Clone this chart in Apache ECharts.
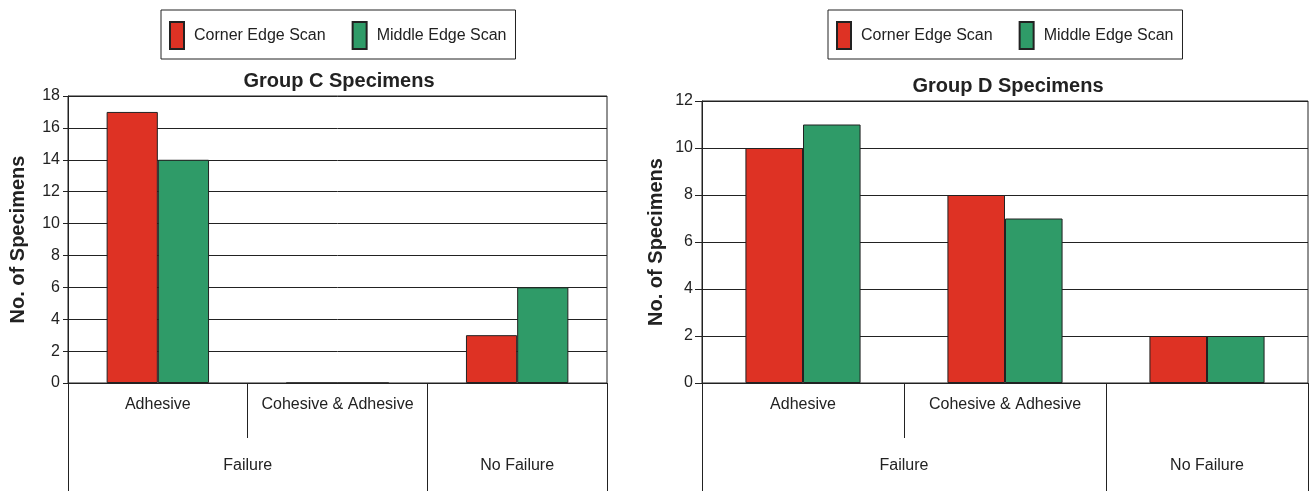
<!DOCTYPE html>
<html>
<head>
<meta charset="utf-8">
<title>Specimen failure modes</title>
<script src="https://cdn.jsdelivr.net/npm/echarts@6/dist/echarts.min.js"></script>
<style>
  html, body { margin: 0; padding: 0; background: #fff; }
  #chart { width: 1309px; height: 491px; }
</style>
</head>
<body>
<div id="chart"></div>
<script>
// Failure-mode categories (lower axis row) and their groups (second row)
const categories = ['Adhesive', 'Cohesive & Adhesive', ''];
const groupNames = ['Failure', 'No Failure'];
const groupSpans = [[0, 2], [2, 3]];   // category index ranges covered by each group

const seriesNames = ['Corner Edge Scan', 'Middle Edge Scan'];

// Group C specimens
const groupCCorner = [17, 0, 3];
const groupCMiddle = [14, 0, 6];
const groupCTicks = { min: 0, max: 18, interval: 2 };

// Group D specimens
const groupDCorner = [10, 8, 2];
const groupDMiddle = [11, 7, 2];
const groupDTicks = { min: 0, max: 12, interval: 2 };

const FONT = '"Liberation Sans", Arial, Helvetica, sans-serif';
const INK = '#222';
const RED = '#de3224';
const GREEN = '#2f9b68';

const groupCenters = groupSpans.map(s => (s[0] + s[1]) / 2);
const groupBounds = Array.from(new Set(groupSpans.flat()));

function groupLabel(v) {
  const i = groupCenters.findIndex(c => Math.abs(c - v) < 1e-6);
  return i >= 0 ? groupNames[i] : '';
}

function categoryAxis(gridIndex) {
  return {
    type: 'category', gridIndex, data: categories,
    axisLine: { lineStyle: { color: INK, width: 1 } },
    axisTick: { show: true, interval: 0, length: 55, lineStyle: { color: INK } },
    axisLabel: { interval: 0, margin: 14, fontSize: 16, color: INK, fontFamily: FONT },
    splitLine: { show: false }
  };
}

function groupAxis(gridIndex) {
  return {
    type: 'value', gridIndex, position: 'bottom',
    min: 0, max: categories.length,
    axisLine: { show: false },
    splitLine: { show: false },
    axisTick: { show: true, customValues: groupBounds, length: 108, lineStyle: { color: INK } },
    axisLabel: {
      customValues: groupCenters, margin: 75, fontSize: 16, color: INK, fontFamily: FONT,
      formatter: groupLabel
    }
  };
}

function valueAxis(gridIndex, ticks, nameGap, tickLen, labelMargin, nameSize) {
  return {
    type: 'value', gridIndex,
    min: ticks.min, max: ticks.max, interval: ticks.interval,
    name: 'No. of Specimens', nameLocation: 'middle', nameGap,
    nameTextStyle: { fontSize: nameSize, fontWeight: 'bold', color: INK, fontFamily: FONT },
    axisLine: { show: true, lineStyle: { color: INK } },
    axisTick: { show: true, length: tickLen, lineStyle: { color: INK } },
    axisLabel: { margin: labelMargin, fontSize: 16, color: INK, fontFamily: FONT },
    splitLine: { show: true, lineStyle: { color: INK, width: 1 } }
  };
}

function barSeries(name, data, axisIndex, color) {
  return {
    type: 'bar', name, data,
    xAxisIndex: axisIndex, yAxisIndex: axisIndex / 2,
    barGap: '0%', barCategoryGap: '43%',
    itemStyle: { color, borderColor: INK, borderWidth: 1 },
    emphasis: { disabled: true }
  };
}

function legendAt(left) {
  return {
    left, top: 10,
    data: seriesNames,
    icon: 'rect', itemWidth: 14, itemHeight: 27, itemGap: 26,
    padding: [11, 9, 9, 8],
    borderColor: INK, borderWidth: 1,
    textStyle: { fontSize: 16, color: INK, fontFamily: FONT, padding: [0, 0, 0, 5] }
  };
}

const chart = echarts.init(document.getElementById('chart'), null, { renderer: 'canvas' });

chart.setOption({
  backgroundColor: '#fff',
  animation: false,
  title: [
    { text: 'Group C Specimens', left: 339, top: 71, textAlign: 'center', padding: 0,
      textStyle: { fontSize: 20, fontWeight: 'bold', color: INK, fontFamily: FONT } },
    { text: 'Group D Specimens', left: 1008, top: 76, textAlign: 'center', padding: 0,
      textStyle: { fontSize: 20, fontWeight: 'bold', color: INK, fontFamily: FONT } }
  ],
  legend: [legendAt(161), legendAt(828)],
  grid: [
    { left: 68, top: 96, width: 539, bottom: 108, show: true, borderColor: INK, borderWidth: 1, backgroundColor: 'transparent' },
    { left: 702, top: 101, width: 606, bottom: 108, show: true, borderColor: INK, borderWidth: 1, backgroundColor: 'transparent' }
  ],
  xAxis: [categoryAxis(0), groupAxis(0), categoryAxis(1), groupAxis(1)],
  yAxis: [
    valueAxis(0, groupCTicks, 40, 5, 8, 20),
    valueAxis(1, groupDTicks, 36, 7, 9, 20)
  ],
  series: [
    barSeries(seriesNames[0], groupCCorner, 0, RED),
    barSeries(seriesNames[1], groupCMiddle, 0, GREEN),
    barSeries(seriesNames[0], groupDCorner, 2, RED),
    barSeries(seriesNames[1], groupDMiddle, 2, GREEN)
  ]
});
</script>
</body>
</html>
